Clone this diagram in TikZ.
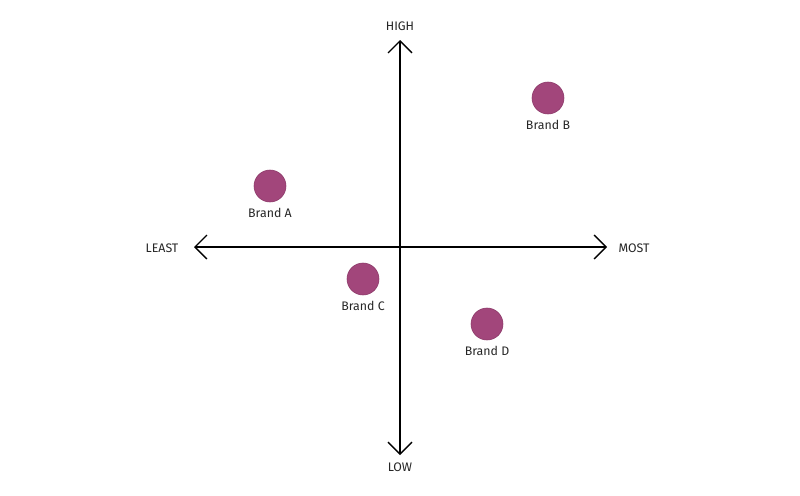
\documentclass[tikz,border=0pt]{standalone}
\usepackage{fontspec}
\setmainfont{Fira Sans}
\usetikzlibrary{positioning, arrows.meta}
\definecolor{brandfill}{HTML}{A2467B}
\definecolor{branddraw}{HTML}{8C3A69}

\begin{document}
\begin{tikzpicture}[x=0.025cm, y=-0.025cm,
            dot/.style={circle, fill=brandfill, draw=branddraw, thin, minimum size=0.8cm, inner sep=0pt},
            tag/.style={font=\fontsize{8.8}{10}\selectfont, text=black!85, inner sep=1pt},
            axis/.style={black, line width=0.9pt, -{Straight Barb[length=3mm, width=6mm, line width=0.9pt]}}
        ]
            \useasboundingbox (0,0) rectangle (800,495);

            \coordinate (origin) at (400,247);
            \coordinate (top) at (400,40);
            \coordinate (bottom) at (400,455);
            \coordinate (left) at (194,247);
            \coordinate (right) at (607,247);

            \draw[axis] (origin) -- (top);
            \draw[axis] (origin) -- (bottom);
            \draw[axis] (origin) -- (left);
            \draw[axis] (origin) -- (right);

            \node[tag] (high) at (400,26) {HIGH};
            \node[tag] (low) at (400,467) {LOW};
            \node[tag] (least) at (162,248) {LEAST};
            \node[tag] (most) at (634,248) {MOST};

            \node[dot] (a) at (270,186) {};
            \node[dot] (b) at (548,98) {};
            \node[dot] (c) at (363,279) {};
            \node[dot] (d) at (487,324) {};

            \node[tag, below=3pt of a] (la) {Brand A};
            \node[tag, below=3pt of b] (lb) {Brand B};
            \node[tag, below=3pt of c] (lc) {Brand C};
            \node[tag, below=3pt of d] (ld) {Brand D};
        \end{tikzpicture}
\end{document}
